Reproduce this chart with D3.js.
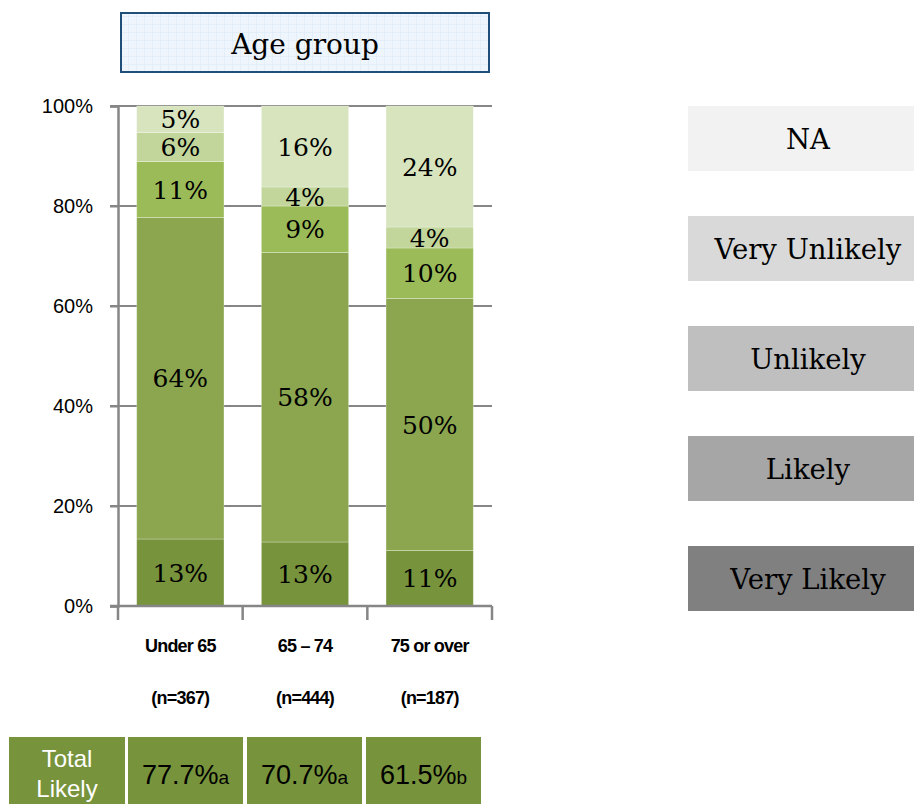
<!DOCTYPE html>
<html>
<head>
<meta charset="utf-8">
<script src="https://cdn.jsdelivr.net/npm/d3@7/dist/d3.min.js"></script>
<style>
  html, body { margin: 0; padding: 0; background: #ffffff; }
  svg { display: block; }
</style>
</head>
<body>
<svg id="chart" width="914" height="804"></svg>
<script>
// Age groups along the x axis
const categories = ["Under 65", "65 – 74", "75 or over"];
const sampleSizes = ["(n=367)", "(n=444)", "(n=187)"];

// Response shares (%) per age group, stacked bottom to top
const veryLikely   = [13.4, 12.8, 11.1];
const likely       = [64.3, 57.9, 50.4];
const unlikely     = [11.2, 9.3, 10.1];
const veryUnlikely = [5.8, 3.8, 4.2];
const notAnswered  = [5.3, 16.2, 24.2];

// Combined "likely" share with significance letters
const totalLikely = [77.7, 70.7, 61.5];
const sigLetters = ["a", "a", "b"];

const seriesNames = ["Very Likely", "Likely", "Unlikely", "Very Unlikely", "NA"];
const yTicks = [0, 20, 40, 60, 80, 100];

const seriesValues = [veryLikely, likely, unlikely, veryUnlikely, notAnswered];
const barColors = ["#77933c", "#8ba64f", "#9bbb59", "#c2d69b", "#d7e4bd"];
const legendColors = ["#808080", "#a6a6a6", "#bfbfbf", "#d9d9d9", "#f2f2f2"];

const rows = categories.map((c, i) => {
  const r = { category: c };
  seriesNames.forEach((s, k) => { r[s] = seriesValues[k][i]; });
  return r;
});

const svg = d3.select("#chart");
const serif = "'DejaVu Serif', serif";
const sans = "'Liberation Sans', Arial, sans-serif";

const x = d3.scaleBand().domain(categories).range([118, 492]).paddingInner(0.3).paddingOuter(0.15);
const y = d3.scaleLinear().domain([0, 100]).range([606, 106]);

// Horizontal gridlines (also serve as the left-hand ticks)
svg.append("g")
  .selectAll("line")
  .data(yTicks)
  .join("line")
  .attr("x1", 110).attr("x2", 492)
  .attr("y1", d => y(d)).attr("y2", d => y(d))
  .attr("stroke", "#868686").attr("stroke-width", 2);

// Stacked bars
const stack = d3.stack().keys(seriesNames);
const layers = stack(rows);

const layerG = svg.append("g")
  .selectAll("g")
  .data(layers)
  .join("g")
  .attr("fill", (d, i) => barColors[i]);

layerG.selectAll("rect")
  .data(d => d.map(p => ({ p, key: d.key })))
  .join("rect")
  .attr("x", d => x(d.p.data.category))
  .attr("width", x.bandwidth())
  .attr("y", d => y(d.p[1]))
  .attr("height", d => y(d.p[0]) - y(d.p[1]))
  .attr("stroke", "rgba(255,255,255,0.35)")
  .attr("stroke-width", 0.8);

layerG.selectAll("text")
  .data(d => d.map(p => ({ p, key: d.key })))
  .join("text")
  .attr("x", d => x(d.p.data.category) + x.bandwidth() / 2)
  .attr("y", d => (y(d.p[0]) + y(d.p[1])) / 2)
  .attr("dy", "0.36em")
  .attr("text-anchor", "middle")
  .attr("font-family", serif)
  .attr("font-size", 25)
  .attr("fill", "#000")
  .text(d => Math.round(d.p[1] - d.p[0]) + "%");

// Y axis
const yAxis = svg.append("g")
  .attr("transform", "translate(118,0)")
  .call(d3.axisLeft(y).tickValues(yTicks).tickSize(8).tickPadding(17).tickFormat(d => d + "%"));
yAxis.select(".domain").attr("stroke", "#868686").attr("stroke-width", 2.5);
yAxis.selectAll(".tick line").attr("stroke", "#868686").attr("stroke-width", 2);
yAxis.selectAll(".tick text")
  .attr("font-family", sans).attr("font-size", 20).attr("fill", "#000");

// X axis baseline with ticks at category boundaries
const boundaries = [x.range()[0]].concat(categories.map(c => x(c) + x.bandwidth() + x.step() * x.paddingInner() / 2));
boundaries[boundaries.length - 1] = x.range()[1];
svg.append("line")
  .attr("x1", 110).attr("x2", 492).attr("y1", y(0)).attr("y2", y(0))
  .attr("stroke", "#868686").attr("stroke-width", 2.5);
svg.append("g").selectAll("line")
  .data(boundaries)
  .join("line")
  .attr("x1", d => d).attr("x2", d => d)
  .attr("y1", y(0)).attr("y2", y(0) + 14)
  .attr("stroke", "#868686").attr("stroke-width", 2.5);

// Category labels and sample sizes
const catG = svg.append("g")
  .attr("font-family", sans).attr("font-weight", "bold").attr("font-size", 18)
  .attr("text-anchor", "middle").attr("fill", "#000");
catG.selectAll("text.cat")
  .data(categories)
  .join("text").attr("class", "cat")
  .attr("x", d => x(d) + x.bandwidth() / 2)
  .attr("y", 652)
  .attr("letter-spacing", -0.8)
  .text(d => d);
catG.selectAll("text.n")
  .data(sampleSizes)
  .join("text").attr("class", "n")
  .attr("x", (d, i) => x(categories[i]) + x.bandwidth() / 2)
  .attr("y", 704)
  .attr("letter-spacing", -0.8)
  .text(d => d);

// Title box with a fine grid texture
const defs = svg.append("defs");
const pat = defs.append("pattern")
  .attr("id", "titleGrid").attr("patternUnits", "userSpaceOnUse")
  .attr("width", 8).attr("height", 8);
pat.append("rect").attr("width", 8).attr("height", 8).attr("fill", "#eef5fc");
pat.append("path").attr("d", "M8 0 L0 0 L0 8").attr("fill", "none")
  .attr("stroke", "#d9e7f6").attr("stroke-width", 1);

svg.append("rect")
  .attr("x", 121).attr("y", 13).attr("width", 368).attr("height", 59)
  .attr("fill", "url(#titleGrid)")
  .attr("stroke", "#1f4e79").attr("stroke-width", 2);
svg.append("text")
  .attr("x", 305).attr("y", 54)
  .attr("text-anchor", "middle")
  .attr("font-family", serif).attr("font-size", 28).attr("fill", "#000")
  .text("Age group");

// Legend, top entry first
const legendOrder = seriesNames.map((s, i) => ({ name: s, color: legendColors[i] })).reverse();
const legend = svg.append("g");
legend.selectAll("rect")
  .data(legendOrder)
  .join("rect")
  .attr("x", 688).attr("width", 226)
  .attr("y", (d, i) => 106 + i * 110)
  .attr("height", 65)
  .attr("fill", d => d.color);
legend.selectAll("text")
  .data(legendOrder)
  .join("text")
  .attr("x", 808)
  .attr("y", (d, i) => 106 + i * 110 + 33)
  .attr("dy", "0.36em")
  .attr("text-anchor", "middle")
  .attr("font-family", serif).attr("font-size", 27.5).attr("fill", "#000")
  .text(d => d.name);

// Total Likely summary row
const cellX = [9, 128, 247, 366];
const cellW = 115;
const table = svg.append("g");
table.selectAll("rect")
  .data(cellX)
  .join("rect")
  .attr("x", d => d).attr("y", 737)
  .attr("width", d => d === 9 ? 116 : cellW).attr("height", 70)
  .attr("fill", "#77933c");

const head = table.append("text")
  .attr("font-family", sans).attr("font-size", 24).attr("fill", "#fff")
  .attr("text-anchor", "middle");
head.append("tspan").attr("x", 67).attr("y", 767).text("Total");
head.append("tspan").attr("x", 67).attr("y", 797).text("Likely");

table.selectAll("text.val")
  .data(totalLikely)
  .join("text").attr("class", "val")
  .attr("x", (d, i) => cellX[i + 1] + cellW / 2)
  .attr("y", 784)
  .attr("text-anchor", "middle")
  .attr("font-family", sans).attr("fill", "#000")
  .each(function (d, i) {
    const t = d3.select(this);
    t.append("tspan").attr("font-size", 27).text(d3.format(".1f")(d) + "%");
    t.append("tspan").attr("font-size", 19).text(sigLetters[i]);
  });
</script>
</body>
</html>
